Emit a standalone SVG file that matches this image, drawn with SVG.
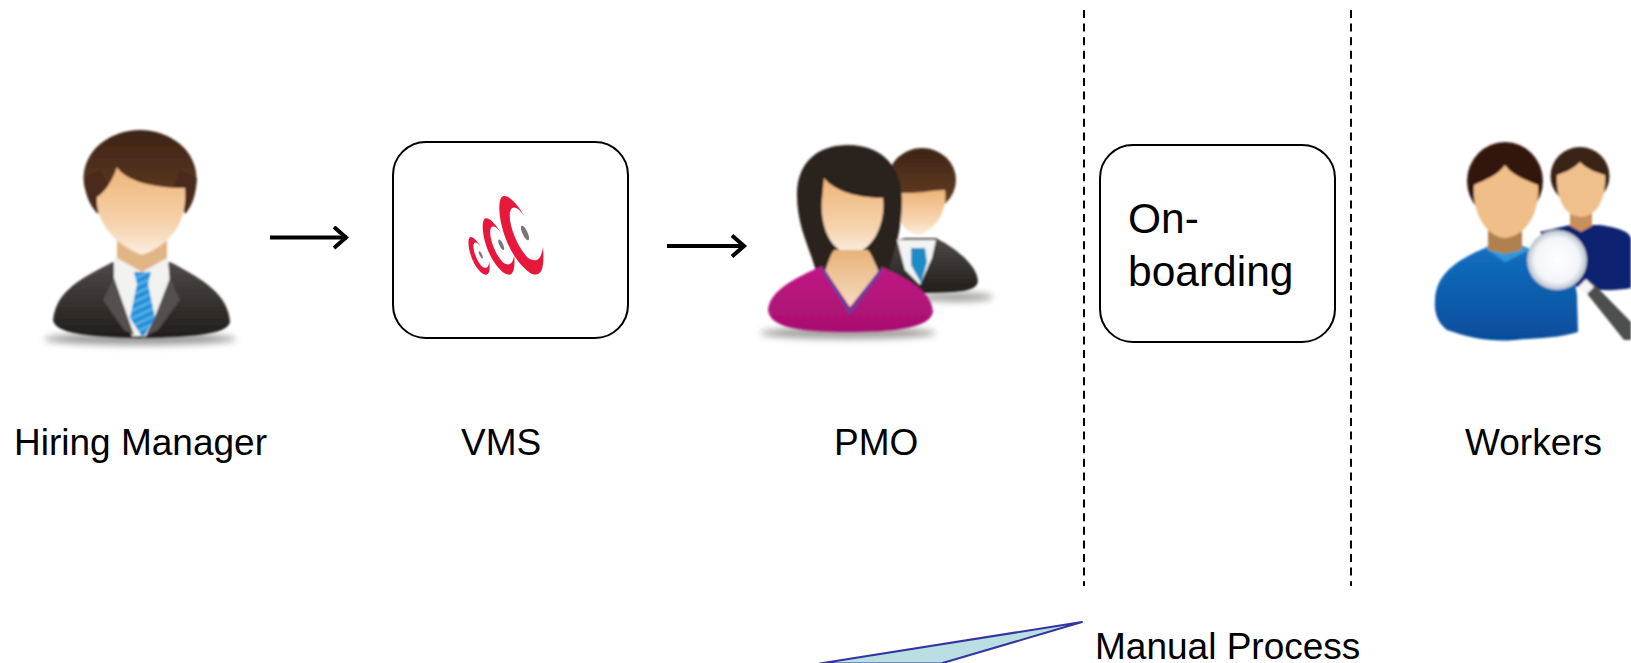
<svg xmlns="http://www.w3.org/2000/svg" width="1631" height="663" viewBox="0 0 1631 663">
<style>
text{font-family:"Liberation Sans",Arial,sans-serif;fill:#000}
.lbl{font-size:37px}
.big{font-size:42.5px}
.box{fill:#fff;stroke:#000;stroke-width:2}
.dash{fill:none;stroke:#000;stroke-width:2;stroke-dasharray:8 5.6}
.arr{fill:none;stroke:#000;stroke-width:4;marker-end:url(#ah)}
.call{fill:#b9dfe3;stroke:#3434a0;stroke-width:2;stroke-linejoin:round}
.soft{filter:url(#sf)}
</style>
<defs>
<marker id="ah" viewBox="0 0 24 24" refX="21" refY="12" markerWidth="24" markerHeight="24" markerUnits="userSpaceOnUse" orient="auto"><path d="M8 1.5L20 12L8 22.5" fill="none" stroke="#000" stroke-width="4"/></marker>
<filter id="sf" x="-10%" y="-10%" width="120%" height="120%"><feGaussianBlur stdDeviation="1.1"/></filter>
<filter id="sd" x="-20%" y="-100%" width="140%" height="300%"><feGaussianBlur stdDeviation="3.5"/></filter>
<linearGradient id="face" x1="0" y1="0" x2="0" y2="1"><stop offset="0" stop-color="#eeb578"/><stop offset=".65" stop-color="#f6d3ae"/><stop offset="1" stop-color="#fbeee0"/></linearGradient>
<linearGradient id="hair" x1="0" y1="0" x2="0" y2="1"><stop offset="0" stop-color="#3d2416"/><stop offset="1" stop-color="#6a4126"/></linearGradient>
<linearGradient id="jacket" x1="0" y1="0" x2="0" y2="1"><stop offset="0" stop-color="#4f4a48"/><stop offset="1" stop-color="#211d1b"/></linearGradient>
<linearGradient id="mag" x1="0" y1="0" x2="0" y2="1"><stop offset="0" stop-color="#c01a84"/><stop offset="1" stop-color="#a80f70"/></linearGradient>
<linearGradient id="blue" x1="0" y1="0" x2="0" y2="1"><stop offset="0" stop-color="#1470c0"/><stop offset="1" stop-color="#064d9c"/></linearGradient>
<linearGradient id="neck" x1="0" y1="0" x2="0" y2="1"><stop offset="0" stop-color="#e8b27a"/><stop offset="1" stop-color="#f6dcc0"/></linearGradient>
<radialGradient id="lens"><stop offset="0" stop-color="#fff"/><stop offset=".75" stop-color="#f2f5f8"/><stop offset="1" stop-color="#b5bfca"/></radialGradient>
<pattern id="stripe" width="8" height="7" patternUnits="userSpaceOnUse" patternTransform="rotate(-25)"><rect width="8" height="7" fill="#1a8fdc"/><rect width="8" height="2.6" fill="#5fb2e2"/></pattern>
<g id="wave"><path d="M525 217C515 200 505 192 501 198C495 210 505 255 530 273C540 278 545 272 543 247C541 262 535 262 528 258C515 245 505 215 512 208C516 206 520 210 525 217Z" fill="#e8173c"/><ellipse cx="525" cy="233" rx="2.6" ry="8" transform="rotate(-25 525 233)" fill="#777"/></g>
</defs>
<rect width="1631" height="663" fill="#fff"/>

<g id="connectors">
<line class="arr" x1="270" y1="237.5" x2="347" y2="237.5"/>
<line class="arr" x1="667" y1="246" x2="745" y2="246"/>
</g>

<g id="dividers">
<line class="dash" x1="1084" y1="10" x2="1084" y2="586"/>
<line class="dash" x1="1351" y1="10" x2="1351" y2="586"/>
</g>

<g id="hiring-manager">
<ellipse cx="140" cy="339" rx="96" ry="6" fill="#9a9a98" filter="url(#sd)"/>
<g class="soft">
<path d="M53 320C56 295 72 282 113 262L170 262C205 280 228 295 230 322C228 333 200 337 140 338C85 337 55 333 53 320Z" fill="url(#jacket)"/>
<path d="M114 258L168 258L170 285L146 336L132 336L114 285Z" fill="#f2f2f0"/>
<path d="M103 300L114 278L134 335L124 330Z" fill="#55504d"/>
<path d="M180 300L170 278L148 335L158 330Z" fill="#55504d"/>
<path d="M117 235H167V258L142 272L117 258Z" fill="#e2b585"/>
<path d="M134 272H151L148 284L155 318L143 338L130 318L137 284Z" fill="url(#stripe)"/>
<ellipse cx="140" cy="178" rx="56.5" ry="48" fill="url(#hair)"/>
<path d="M84 178C85 196 90 206 98 214L112 190L100 170Z" fill="#4a2c1b"/>
<path d="M197 178C196 196 192 206 185 214L172 190L180 170Z" fill="#4a2c1b"/>
<path d="M117 167C125 180 150 188 185 188C187 215 178 242 142 255C108 242 95 215 97 197C105 192 112 182 117 167Z" fill="url(#face)"/>
</g>
</g>

<g id="vms">
<rect class="box" x="393" y="142" width="235" height="196" rx="33"/>
<use href="#wave"/>
<use href="#wave" transform="translate(512 275) scale(.72) translate(-540 -275)"/>
<use href="#wave" transform="translate(488 275) scale(.48) translate(-540 -275)"/>
</g>

<g id="pmo">
<ellipse cx="955" cy="297" rx="38" ry="5" fill="#a5a5a3" filter="url(#sd)"/>
<ellipse cx="848" cy="333" rx="88" ry="6" fill="#a09f9d" filter="url(#sd)"/>
<g class="soft">
<path d="M885 243L905 238H936C962 252 978 268 978 282C975 292 960 292 925 293L890 290Z" fill="url(#jacket)"/>
<path d="M897 240H936L932 258L920 285L905 270Z" fill="#f2f3f3"/>
<path d="M911 248H925L927 262L921 283L911 265Z" fill="#1b8cc4"/>
<ellipse cx="922" cy="180" rx="34" ry="32" fill="url(#hair)"/>
<path d="M892 190C905 197 930 190 945 190C948 210 935 232 918 235C903 232 892 215 892 190Z" fill="url(#face)"/>
<path d="M797 195C797 160 820 145 848 145C885 145 902 170 902 200C902 228 895 255 884 280H818C812 250 797 230 797 195Z" fill="#2c211d"/>
<path d="M824 178C835 192 860 198 883 198C886 225 872 252 851 254C830 252 820 225 822 200Z" fill="url(#face)"/>
<path d="M824 275C828 262 832 250 835 250H868C872 255 876 265 880 275L851 308Z" fill="url(#neck)"/>
<path d="M768 310C770 290 795 278 822 266L850 307L882 267C905 278 932 290 933 312C930 328 895 332 848 332C800 332 770 328 768 310Z" fill="url(#mag)"/>
<path d="M822 268L850 312L882 269" fill="none" stroke="#5a3f9c" stroke-width="3"/>
</g>
</g>

<g id="onboarding">
<rect class="box" x="1100" y="145" width="235" height="197" rx="33"/>
<text class="big" x="1128" y="233">On-</text>
<text class="big" x="1128" y="286">boarding</text>
</g>

<g id="workers">
<g class="soft">
<path d="M1540 232L1570 225H1600C1620 228 1631 232 1631 240V288C1610 292 1590 290 1570 285Z" fill="#0a2070"/>
<ellipse cx="1580" cy="176" rx="29.5" ry="29" fill="#3a2118"/>
<path d="M1570 212H1592V226L1581 232L1570 226Z" fill="#c98f5c"/>
<path d="M1557 175C1565 172 1572 170 1580 162C1588 170 1596 172 1605 175C1606 198 1598 216 1581 217C1564 216 1556 198 1557 175Z" fill="#f0c08c"/>
<path d="M1435 300C1436 272 1460 258 1490 246H1522C1550 254 1575 268 1577 295L1578 332C1560 338 1535 338 1515 340C1490 342 1470 338 1447 330C1437 322 1434 312 1435 300Z" fill="url(#blue)"/>
<path d="M1485 248L1505 262L1530 250L1520 244H1490Z" fill="#2f97d8"/>
<path d="M1488 228H1522V250L1505 254L1488 250Z" fill="#b0814f"/>
<ellipse cx="1505" cy="181" rx="38" ry="39" fill="#33190f"/>
<path d="M1474 185C1485 180 1498 175 1505 165C1512 175 1525 180 1538 185C1540 210 1528 236 1505 238C1484 236 1472 210 1474 185Z" fill="#f0be88"/>
<path d="M1584 290L1592 282L1631 322V340L1624 340Z" fill="#4d4f50"/>
<path d="M1578 287L1586 279L1594 287L1586 295Z" fill="#f4f4f4"/>
<circle cx="1557" cy="260" r="30" fill="url(#lens)"/>
</g>
</g>

<g id="labels">
<text class="lbl" x="14" y="455">Hiring Manager</text>
<text class="lbl" x="461" y="455">VMS</text>
<text class="lbl" x="834" y="455">PMO</text>
<text class="lbl" x="1465" y="455">Workers</text>
</g>

<g id="callout">
<path class="call" d="M1082 622L820 663.5H941Z"/>
<text class="lbl" x="1095" y="659">Manual Process</text>
</g>
</svg>
